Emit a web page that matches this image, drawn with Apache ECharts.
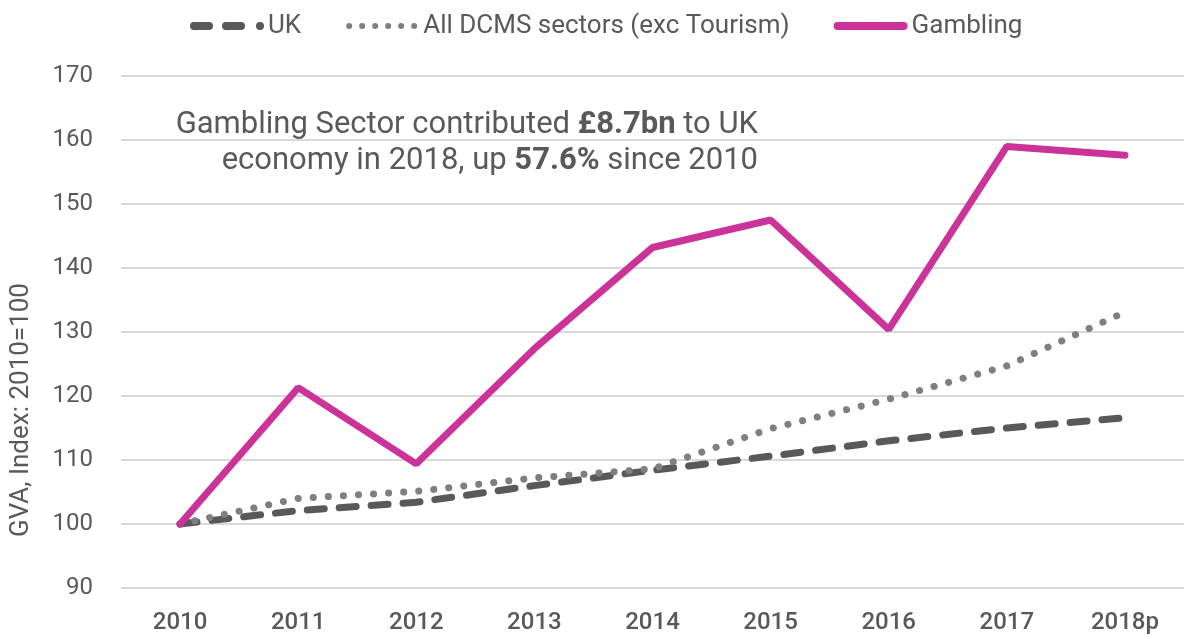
<!DOCTYPE html>
<html>
<head>
<meta charset="utf-8">
<script src="https://cdn.jsdelivr.net/npm/echarts@6/dist/echarts.min.js"></script>
<style>
  html, body { margin: 0; padding: 0; background: #fff; }
  #chart { width: 1184px; height: 639px; }
</style>
</head>
<body>
<div id="chart"></div>
<script>
var years = ['2010', '2011', '2012', '2013', '2014', '2015', '2016', '2017', '2018p']
var ukValues = [100, 102.1, 103.4, 106.0, 108.4, 110.6, 113.0, 115.0, 116.6]
var dcmsValues = [100, 104.0, 105.1, 107.2, 108.6, 114.9, 119.5, 124.7, 133.1]
var gamblingValues = [100, 121.3, 109.4, 127.4, 143.2, 147.5, 130.4, 159.0, 157.6]
var yTicks = { min: 90, max: 170, step: 10 }

var font = 'Roboto, "Liberation Sans", sans-serif'
var grey = '#595959'

// legend icons drawn as paths (74 x 8 box)
var ukIcon = 'path://M4 0H19A4 4 0 0 1 19 8H4A4 4 0 0 1 4 0Z' +
  'M36 0H51A4 4 0 0 1 51 8H36A4 4 0 0 1 36 0Z' +
  'M66 4A4 4 0 1 0 74 4A4 4 0 1 0 66 4Z'
var dcmsIcon = 'path://M0 0M74 8' +
  'M1 4A3 3 0 1 0 7 4A3 3 0 1 0 1 4Z' +
  'M14 4A3 3 0 1 0 20 4A3 3 0 1 0 14 4Z' +
  'M27 4A3 3 0 1 0 33 4A3 3 0 1 0 27 4Z' +
  'M40 4A3 3 0 1 0 46 4A3 3 0 1 0 40 4Z' +
  'M53 4A3 3 0 1 0 59 4A3 3 0 1 0 53 4Z' +
  'M66 4A3 3 0 1 0 72 4A3 3 0 1 0 66 4Z'
var gamblingIcon = 'path://M4 0H70A4 4 0 0 1 70 8H4A4 4 0 0 1 4 0Z'

var chart = echarts.init(document.getElementById('chart'))
var option = {
  animation: false,
  textStyle: { fontFamily: font },
  legend: {
    top: 8,
    left: 185,
    itemWidth: 74,
    itemHeight: 8,
    itemGap: 44,
    textStyle: { fontSize: 26, color: grey, fontFamily: font, padding: [0, 0, 0, -1] },
    data: [
      { name: 'UK', icon: ukIcon, itemStyle: { color: grey } },
      { name: 'All DCMS sectors (exc Tourism)', icon: dcmsIcon, itemStyle: { color: '#7f7f7f' } },
      { name: 'Gambling', icon: gamblingIcon, itemStyle: { color: '#cc3399' } }
    ]
  },
  grid: { left: 121, top: 76, width: 1072, bottom: 51 },
  xAxis: {
    type: 'category',
    data: years,
    boundaryGap: true,
    axisLine: { show: false },
    axisTick: { show: false },
    axisLabel: { fontSize: 24, color: grey, margin: 23, fontWeight: 500 }
  },
  yAxis: {
    type: 'value',
    min: yTicks.min,
    max: yTicks.max,
    interval: yTicks.step,
    axisLine: { show: false },
    axisTick: { show: false },
    axisLabel: { fontSize: 24, color: grey, margin: 28 },
    splitLine: { lineStyle: { color: '#d9d9d9', width: 2 } }
  },
  graphic: [
    {
      type: 'text',
      x: 21,
      y: 410,
      rotation: Math.PI / 2,
      style: {
        text: 'GVA, Index: 2010=100',
        fill: grey,
        fontSize: 26,
        fontFamily: font,
        align: 'center',
        verticalAlign: 'middle'
      }
    },
    {
      type: 'text',
      x: 758,
      y: 125,
      style: {
        text: 'Gambling Sector contributed {b|£8.7bn} to UK',
        align: 'right',
        verticalAlign: 'middle',
        fill: grey,
        fontSize: 31,
        fontFamily: font,
        rich: { b: { fontWeight: 'bold', fontSize: 31, fill: grey, fontFamily: font } }
      }
    },
    {
      type: 'text',
      x: 758,
      y: 161,
      style: {
        text: 'economy in 2018, up {b|57.6%} since 2010',
        align: 'right',
        verticalAlign: 'middle',
        fill: grey,
        fontSize: 31,
        fontFamily: font,
        rich: { b: { fontWeight: 'bold', fontSize: 31, fill: grey, fontFamily: font } }
      }
    }
  ],
  series: [
    {
      name: 'UK',
      type: 'line',
      data: ukValues,
      symbol: 'none',
      z: 2,
      lineStyle: { color: grey, width: 7, type: [17, 15], cap: 'round' },
      itemStyle: { color: grey }
    },
    {
      name: 'All DCMS sectors (exc Tourism)',
      type: 'line',
      data: dcmsValues,
      symbol: 'none',
      z: 3,
      lineStyle: { color: '#7f7f7f', width: 7, type: [0.1, 15], cap: 'round' },
      itemStyle: { color: '#7f7f7f' }
    },
    {
      name: 'Gambling',
      type: 'line',
      data: gamblingValues,
      symbol: 'none',
      z: 4,
      lineStyle: { color: '#cc3399', width: 7, cap: 'round' },
      itemStyle: { color: '#cc3399' }
    }
  ]
}
chart.setOption(option)
</script>
</body>
</html>
